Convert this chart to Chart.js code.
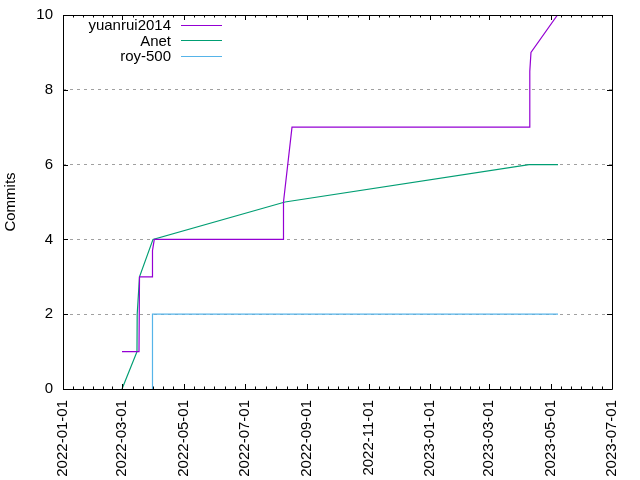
<!DOCTYPE html>
<html>
<head>
<meta charset="utf-8">
<script src="https://cdn.jsdelivr.net/npm/chart.js@4/dist/chart.umd.min.js"></script>
<style>
  html, body { margin: 0; padding: 0; background: #fff; }
  #wrap { width: 640px; height: 480px; }
</style>
</head>
<body>
<div id="wrap"><canvas id="commitChart" width="640" height="480"></canvas></div>
<script>
// Cumulative commits per author
let yuanruiDates = [ '2022-02-28T16:00', '2022-03-17T14:00', '2022-03-18T02:00', '2022-03-30T19:00',
    '2022-03-31T00:00', '2022-04-01T19:00', '2022-08-08T02:00', '2022-08-08T07:00', '2022-08-16T18:00',
    '2023-04-09T23:00', '2023-04-10T06:00', '2023-04-11T10:00', '2023-05-07T19:00' ];
let yuanruiCommits = [ 1, 1, 3, 3, 3.7, 4, 4, 5, 7, 7, 8.5, 9, 10 ];

let anetDates = [ '2022-02-28T16:00', '2022-03-15T14:00', '2022-03-15T19:00', '2022-03-18T02:00',
    '2022-03-31T12:00', '2022-08-09T19:00', '2023-04-09T12:00', '2023-05-08T07:00' ];
let anetCommits = [ 0, 1, 2, 3, 4, 5, 6, 6 ];

let royDates = [ '2022-03-31T00:00', '2022-03-31T00:00', '2023-05-08T07:00' ];
let royCommits = [ 0, 2, 2 ];

let xTickDates = [ '2022-01-01', '2022-03-01', '2022-05-01', '2022-07-01', '2022-09-01',
    '2022-11-01', '2023-01-01', '2023-03-01', '2023-05-01', '2023-07-01' ];
let yTicks = [ 0, 2, 4, 6, 8, 10 ];

function toTime ( s )
{
    return Date.parse( s.length > 10 ? s + ':00Z' : s + 'T00:00:00Z' );
}

function points ( dates, values )
{
    return dates.map( function ( d, i ) { return { x: toTime( d ), y: values[ i ] }; } );
}

let FONT = 'Liberation Sans, Arial, sans-serif';

// gnuplot style frame with inward ticks on all four sides
let framePlugin = {
    id: 'frame',
    afterDatasetsDraw: function ( chart )
    {
        let c = chart.ctx, a = chart.chartArea;
        let xs = chart.scales.x, ys = chart.scales.y;
        c.save();
        c.strokeStyle = '#000';
        c.lineWidth = 1;
        c.beginPath();
        c.rect( Math.round( a.left ) + 0.5, Math.round( a.top ) + 0.5,
            Math.round( a.right - a.left ), Math.round( a.bottom - a.top ) );
        c.stroke();

        c.beginPath();
        yTicks.forEach( function ( v )
        {
            let y = Math.round( ys.getPixelForValue( v ) ) + 0.5;
            c.moveTo( a.left, y ); c.lineTo( a.left + 5, y );
            c.moveTo( a.right, y ); c.lineTo( a.right - 5, y );
        } );
        for ( let i = 0; i < xTickDates.length; i++ )
        {
            let t = toTime( xTickDates[ i ] );
            let x = Math.round( xs.getPixelForValue( t ) ) + 0.5;
            c.moveTo( x, a.bottom ); c.lineTo( x, a.bottom - 5 );
            c.moveTo( x, a.top ); c.lineTo( x, a.top + 5 );
            if ( i < xTickDates.length - 1 )
            {
                let t2 = toTime( xTickDates[ i + 1 ] );
                for ( let k = 1; k < 6; k++ )
                {
                    let mx = Math.round( xs.getPixelForValue( t + ( t2 - t ) * k / 6 ) ) + 0.5;
                    c.moveTo( mx, a.bottom ); c.lineTo( mx, a.bottom - 2.5 );
                    c.moveTo( mx, a.top ); c.lineTo( mx, a.top + 2.5 );
                }
            }
        }
        c.stroke();

        // legend: right aligned label then a line sample
        c.font = '15px ' + FONT;
        c.textAlign = 'right';
        c.textBaseline = 'middle';
        chart.data.datasets.forEach( function ( ds, i )
        {
            let y = 25 + i * 15.4;
            c.fillStyle = '#000';
            c.fillText( ds.label, 171, y + 1 );
            c.strokeStyle = ds.borderColor;
            c.beginPath();
            c.moveTo( 181, Math.round( y ) + 0.5 );
            c.lineTo( 222, Math.round( y ) + 0.5 );
            c.stroke();
        } );
        c.restore();
    }
};

let ctx = document.getElementById( 'commitChart' ).getContext( '2d' );
let chart = new Chart( ctx, {
    type: 'line',
    data: {
        datasets: [ {
            label: 'yuanrui2014',
            data: points( yuanruiDates, yuanruiCommits ),
            borderColor: '#9400d3',
        }, {
            label: 'Anet',
            data: points( anetDates, anetCommits ),
            borderColor: '#009e73',
        }, {
            label: 'roy-500',
            data: points( royDates, royCommits ),
            borderColor: '#56b4e9',
        } ]
    },
    options: {
        responsive: false,
        animation: false,
        datasets: {
            line: { borderWidth: 1.2, pointRadius: 0, tension: 0, fill: false }
        },
        layout: { padding: { left: 0, top: 15, right: 28, bottom: 0 } },
        plugins: {
            legend: { display: false },
            tooltip: { enabled: false }
        },
        scales: {
            x: {
                type: 'linear',
                min: toTime( '2022-01-01' ),
                max: toTime( '2023-07-01' ),
                afterBuildTicks: function ( axis )
                {
                    axis.ticks = xTickDates.map( function ( d ) { return { value: toTime( d ) }; } );
                },
                afterFit: function ( axis )
                {
                    axis.height = 91;
                    axis.paddingLeft = 0;
                    axis.paddingRight = 0;
                },
                grid: { display: false },
                border: { display: false },
                ticks: {
                    autoSkip: false,
                    minRotation: 90,
                    maxRotation: 90,
                    padding: 3,
                    color: '#000',
                    font: { family: FONT, size: 15 },
                    callback: function ( v ) { return new Date( v ).toISOString().slice( 0, 10 ); }
                }
            },
            y: {
                min: 0,
                max: 10,
                afterBuildTicks: function ( axis )
                {
                    axis.ticks = yTicks.map( function ( v ) { return { value: v }; } );
                },
                afterFit: function ( axis )
                {
                    axis.width = 63;
                    axis.paddingTop = 0;
                    axis.paddingBottom = 0;
                },
                border: { display: false, dash: [ 3, 4 ] },
                grid: {
                    drawTicks: false,
                    color: function ( c ) { return ( c.tick.value === 0 || c.tick.value === 10 ) ? 'rgba(0,0,0,0)' : '#a0a0a0'; },
                    lineWidth: 1
                },
                ticks: {
                    padding: 10,
                    color: '#000',
                    font: { family: FONT, size: 15 }
                },
                title: {
                    display: true,
                    text: 'Commits',
                    color: '#000',
                    padding: { top: 2, bottom: 0 },
                    font: { family: FONT, size: 15 }
                }
            }
        }
    },
    plugins: [ framePlugin ]
} );
</script>
</body>
</html>
